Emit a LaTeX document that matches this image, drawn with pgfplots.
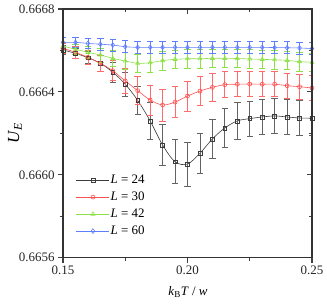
\documentclass[border=0pt]{standalone}
\usepackage{fontspec}
\setmainfont{Liberation Serif}
\usepackage{pgfplots}
\usepackage{pgfplotstable}
\pgfplotsset{compat=1.18}

\definecolor{cK}{RGB}{60,60,60}
\definecolor{cR}{RGB}{255,80,80}
\definecolor{cG}{RGB}{140,225,70}
\definecolor{cB}{RGB}{95,125,255}

\pgfplotstableread{
x y e
0.150 0.666602 0.000020
0.155 0.666586 0.000024
0.160 0.666565 0.000029
0.165 0.666538 0.000039
0.170 0.666495 0.000048
0.175 0.666437 0.000058
0.180 0.666359 0.000068
0.185 0.666260 0.000087
0.190 0.666144 0.000097
0.195 0.666063 0.000106
0.200 0.666052 0.000106
0.205 0.666104 0.000098
0.210 0.666173 0.000094
0.215 0.666226 0.000092
0.220 0.666260 0.000087
0.225 0.666271 0.000084
0.230 0.666279 0.000084
0.235 0.666284 0.000084
0.240 0.666279 0.000084
0.245 0.666274 0.000084
0.250 0.666273 0.000084
}\dataA

\pgfplotstableread{
x y e
0.150 0.666610 0.000024
0.155 0.666591 0.000029
0.160 0.666567 0.000034
0.165 0.666538 0.000039
0.170 0.666502 0.000048
0.175 0.666453 0.000058
0.180 0.666406 0.000068
0.185 0.666361 0.000072
0.190 0.666337 0.000077
0.195 0.666351 0.000075
0.200 0.666380 0.000072
0.205 0.666404 0.000070
0.210 0.666422 0.000068
0.215 0.666435 0.000063
0.220 0.666437 0.000060
0.225 0.666438 0.000060
0.230 0.666437 0.000060
0.235 0.666437 0.000060
0.240 0.666430 0.000060
0.245 0.666425 0.000060
0.250 0.666419 0.000060
}\dataB

\pgfplotstableread{
x y e
0.150 0.666621 0.000020
0.155 0.666606 0.000024
0.160 0.666591 0.000029
0.165 0.666578 0.000034
0.170 0.666562 0.000039
0.175 0.666549 0.000042
0.180 0.666538 0.000045
0.185 0.666541 0.000045
0.190 0.666551 0.000045
0.195 0.666557 0.000045
0.200 0.666560 0.000045
0.205 0.666560 0.000045
0.210 0.666562 0.000045
0.215 0.666562 0.000045
0.220 0.666561 0.000045
0.225 0.666559 0.000045
0.230 0.666557 0.000045
0.235 0.666555 0.000045
0.240 0.666552 0.000045
0.245 0.666546 0.000045
0.250 0.666543 0.000045
}\dataC

\pgfplotstableread{
x y e
0.150 0.666639 0.000022
0.155 0.666639 0.000024
0.160 0.666634 0.000026
0.165 0.666630 0.000028
0.170 0.666626 0.000029
0.175 0.666618 0.000029
0.180 0.666615 0.000029
0.185 0.666615 0.000029
0.190 0.666615 0.000029
0.195 0.666615 0.000029
0.200 0.666615 0.000029
0.205 0.666615 0.000029
0.210 0.666615 0.000029
0.215 0.666615 0.000029
0.220 0.666615 0.000029
0.225 0.666615 0.000029
0.230 0.666615 0.000029
0.235 0.666614 0.000029
0.240 0.666613 0.000029
0.245 0.666612 0.000029
0.250 0.666609 0.000029
}\dataD

\begin{document}
\begin{tikzpicture}
\begin{axis}[
  name=ax,
  scale only axis,
  width=249bp, height=248.7bp,
  xmin=0.15, xmax=0.25,
  ymin=0.6656, ymax=0.6668,
  xtick={0.15,0.2,0.25},
  minor xtick={0.175,0.225},
  ytick={0.6656,0.666,0.6664,0.6668},
  minor ytick={0.6658,0.6662,0.6666},
  xticklabel style={/pgf/number format/.cd, fixed, fixed zerofill, precision=2, assume math mode=true},
  yticklabel style={/pgf/number format/.cd, fixed, fixed zerofill, precision=4, assume math mode=true},
  scaled y ticks=false,
  scaled x ticks=false,
  tick label style={font=\fontsize{13}{15}\selectfont, text=black!85},
  tick align=outside,
  xtick pos=left, ytick pos=left,
  major tick length=5bp,
  minor tick length=3bp,
  tick style={line width=1.1pt, color=black!75},
  axis line style={line width=1.4pt, color=black!80},
  xlabel={\textit{k}\textsubscript{B}\textit{T} / \textit{w}},
  ylabel={\fontsize{17}{20}\selectfont\textit{U}\textsubscript{\textit{E}}},
  xlabel style={font=\fontsize{13}{15}\selectfont, at={(axis description cs:0.502,-0.137)}, anchor=center},
  ylabel style={at={(axis description cs:-0.193,0.5)}, anchor=center},
  legend style={draw=none, fill=none, at={(axis description cs:0.04,0.07)}, anchor=south west,
     font=\fontsize{13}{15}\selectfont, row sep=3bp,
     nodes={inner sep=1bp, text height=9bp, text depth=3bp}},
  legend cell align=left,
  legend image code/.code={\draw[mark repeat=2,mark phase=2] plot coordinates {(0bp,0bp) (16.5bp,0bp) (33bp,0bp)};},
  every axis plot/.append style={line width=0.6pt, smooth, tension=0.55},
  error bars/error bar style={line width=0.8pt, solid},
  error bars/error mark options={line width=0.8pt, mark size=3.2bp, rotate=90},
]
\addplot[color=cK, mark=square, mark size=1.9bp, mark options={fill=white, solid, line width=0.6pt},
  error bars/.cd, y dir=both, y explicit, error bar style={color=cK!80}]
  table[x=x, y=y, y error=e]{\dataA};
\addlegendentry{\textit{L} = 24}
\addplot[color=cR, mark=o, mark size=2bp, mark options={fill=white, solid, line width=0.6pt},
  error bars/.cd, y dir=both, y explicit, error bar style={color=cR!85}]
  table[x=x, y=y, y error=e]{\dataB};
\addlegendentry{\textit{L} = 30}
\addplot[color=cG, mark=triangle, mark size=2.3bp, mark options={fill=white, solid, line width=0.6pt},
  error bars/.cd, y dir=both, y explicit, error bar style={color=cG}]
  table[x=x, y=y, y error=e]{\dataC};
\addlegendentry{\textit{L} = 42}
\addplot[color=cB, mark=diamond, mark size=2.4bp, mark options={fill=white, solid, line width=0.6pt},
  error bars/.cd, y dir=both, y explicit, error bar style={color=cB}]
  table[x=x, y=y, y error=e]{\dataD};
\addlegendentry{\textit{L} = 60}
\end{axis}
% mirrored inside ticks on top and right
\begin{axis}[
  scale only axis,
  width=249bp, height=248.7bp,
  xmin=0.15, xmax=0.25,
  ymin=0.6656, ymax=0.6668,
  xtick={0.15,0.2,0.25},
  minor xtick={0.175,0.225},
  ytick={0.6656,0.666,0.6664,0.6668},
  minor ytick={0.6658,0.6662,0.6666},
  xticklabels={}, yticklabels={},
  scaled y ticks=false, scaled x ticks=false,
  tick align=inside,
  xtick pos=right, ytick pos=right,
  major tick length=5bp,
  minor tick length=3bp,
  tick style={line width=1.1pt, color=black!75},
  axis line style={line width=1.4pt, color=black!80},
]
\end{axis}
\pgfresetboundingbox
\path ([shift={(-63bp,-47.3bp)}]ax.south west) rectangle ([shift={(15bp,9bp)}]ax.north east);
\end{tikzpicture}
\end{document}
